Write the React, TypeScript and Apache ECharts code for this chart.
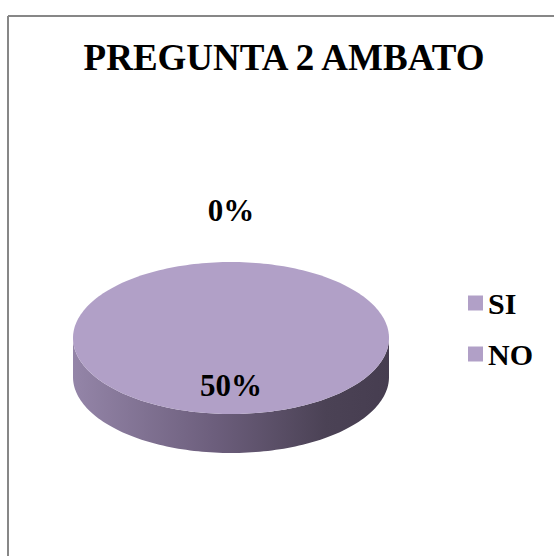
import React, { useEffect, useRef } from 'react';
import * as echarts from 'echarts';

const categories: string[] = ['SI', 'NO'];
const values: number[] = [0, 0.5];
const chartTitle = 'PREGUNTA 2 AMBATO';

const TOP_COLOR = '#b1a0c7';
const FONT = "'Liberation Serif', 'Times New Roman', serif";

export default function App() {
  const ref = useRef<HTMLDivElement>(null);

  useEffect(() => {
    const chart = echarts.init(ref.current!, null, { renderer: 'svg' });
    const cx = 231, cy = 338, rx = 158, ry = 76, depth = 39;
    const TWO_PI = Math.PI * 2;
    const total = values.reduce((a, b) => a + b, 0) || 1;
    const starts: number[] = [];
    let acc = 0;
    values.forEach((v) => { starts.push(acc); acc += v; });

    const arcPts = (a0: number, a1: number, dy: number) => {
      const n = Math.max(2, Math.ceil(((a1 - a0) / TWO_PI) * 240));
      const pts: number[][] = [];
      for (let k = 0; k <= n; k++) {
        const t = a0 + ((a1 - a0) * k) / n;
        pts.push([cx + rx * Math.sin(t), cy - ry * Math.cos(t) + dy]);
      }
      return pts;
    };

    const sideFill = {
      type: 'linear', x: cx - rx, y: 0, x2: cx + rx, y2: 0, global: true,
      colorStops: [
        { offset: 0, color: '#9485a8' },
        { offset: 0.45, color: '#6c5e7c' },
        { offset: 0.8, color: '#4b4255' },
        { offset: 1, color: '#463d50' },
      ],
    };

    const series = categories.map((name, i) => ({
      type: 'custom',
      name,
      coordinateSystem: 'none',
      data: [[values[i]]],
      itemStyle: { color: TOP_COLOR },
      renderItem: (params: any, api: any) => {
        const v = api.value(0) as number;
        const a0 = (starts[i] / total) * TWO_PI;
        const a1 = ((starts[i] + v) / total) * TWO_PI;
        const children: any[] = [];
        const full = a1 - a0 >= TWO_PI - 1e-6;
        if (a1 > a0) {
          const s0 = Math.max(a0, Math.PI / 2);
          const s1 = Math.min(a1, Math.PI * 1.5);
          if (s1 > s0) {
            const top = arcPts(s0, s1, 0);
            const bottom = arcPts(s0, s1, depth).reverse();
            children.push({ type: 'polygon', shape: { points: top.concat(bottom) }, style: { fill: sideFill } });
          }
          const pts = full ? arcPts(0, TWO_PI, 0) : [[cx, cy]].concat(arcPts(a0, a1, 0));
          children.push({ type: 'polygon', shape: { points: pts }, style: { fill: api.visual('color') } });
        }
        const mid = (a0 + a1) / 2;
        const share = v / total;
        const inside = share >= 0.05;
        const lx = inside ? cx + 0.63 * rx * Math.sin(mid) : cx + (rx + 52) * Math.sin(mid);
        const ly = inside ? cy - 0.63 * ry * Math.cos(mid) : cy - (ry + 52) * Math.cos(mid);
        children.push({
          type: 'text',
          style: {
            text: `${Math.round(v * 100)}%`,
            x: lx, y: ly, align: 'center', verticalAlign: 'middle',
            fill: '#000', fontSize: 31, fontWeight: 'bold', fontFamily: FONT,
          },
        });
        return { type: 'group', children };
      },
    }));

    chart.setOption({
      animation: false,
      backgroundColor: '#fff',
      legend: {
        data: categories,
        orient: 'vertical',
        left: 463,
        top: 283,
        icon: 'rect',
        itemWidth: 15,
        itemHeight: 15,
        itemGap: 21,
        selectedMode: false,
        textStyle: { fontFamily: FONT, fontWeight: 'bold', fontSize: 30, color: '#000' },
      },
      graphic: [
        { type: 'line', shape: { x1: 8, y1: 16, x2: 554, y2: 16 }, style: { stroke: '#878787', lineWidth: 2 } },
        { type: 'line', shape: { x1: 8, y1: 16, x2: 8, y2: 556 }, style: { stroke: '#878787', lineWidth: 2 } },
        {
          type: 'text', x: 284, y: 57,
          style: { text: chartTitle, align: 'center', verticalAlign: 'middle', fill: '#000', fontSize: 37, fontWeight: 'bold', fontFamily: FONT },
        },
      ],
      series,
    } as any);
    return () => chart.dispose();
  }, []);

  return <div ref={ref} style={{ position: 'absolute', left: 0, top: 0, width: 554, height: 556, background: '#fff' }} />;
}
